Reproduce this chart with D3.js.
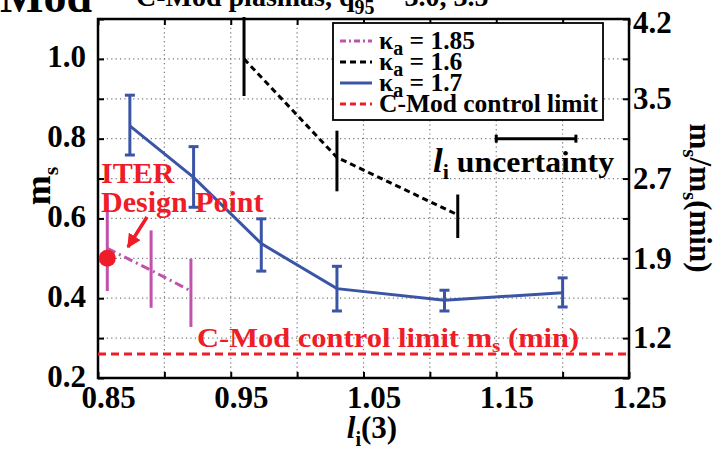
<!DOCTYPE html>
<html>
<head>
<meta charset="utf-8">
<script src="https://cdn.jsdelivr.net/npm/d3@7/dist/d3.min.js"></script>
<style>
  html, body { margin: 0; padding: 0; background: #fff; }
  svg { display: block; font-family: "Liberation Serif", "Times New Roman", serif; font-weight: bold; }
</style>
</head>
<body>
<svg id="chart" width="723" height="451"></svg>
<script>
// l_i(3) scans of the pedestal stability margin m_s for three elongations
const k185Li = [0.857, 0.890, 0.920];
const k185Ms = [0.525, 0.470, 0.418];
const k185Lo = [0.418, 0.376, 0.328];
const k185Hi = [0.652, 0.570, 0.499];

const k16Li = [0.960, 1.030, 1.121];
const k16Ms = [1.000, 0.753, 0.609];
const k16Lo = [0.907, 0.668, 0.551];
const k16Hi = [1.105, 0.820, 0.660];

const k17Li = [0.874, 0.922, 0.973, 1.030, 1.111, 1.200];
const k17Ms = [0.832, 0.703, 0.537, 0.424, 0.395, 0.414];
const k17Lo = [0.759, 0.628, 0.468, 0.368, 0.368, 0.378];
const k17Hi = [0.909, 0.780, 0.599, 0.480, 0.420, 0.451];

const msMin = 0.26;           // C-Mod control limit
const iterLi = 0.857, iterMs = 0.50;
const liUncertCenter = 1.18, liUncertHalf = 0.03, liUncertLevel = 0.80;

const xTicks = [0.85, 0.90, 0.95, 1.00, 1.05, 1.10, 1.15, 1.20, 1.25];
const xTickLabels = ["0.85", "", "0.95", "", "1.05", "", "1.15", "", "1.25"];
const yTicks = [0.2, 0.3, 0.4, 0.5, 0.6, 0.7, 0.8, 0.9, 1.0, 1.1];
const yTickLabels = ["0.2", "", "0.4", "", "0.6", "", "0.8", "", "1.0", ""];
const rightTickMs = [1.1, 0.9, 0.7, 0.5, 0.3];
const rightTickLabels = ["4.2", "3.5", "2.7", "1.9", "1.2"];

const BLUE = "#3b55a6", MAG = "#c052ac", RED = "#ee1d27", BLK = "#000";

const svg = d3.select("#chart");
const L = 98, R = 629, T = 19, B = 378;
const x = d3.scaleLinear().domain([0.85, 1.25]).range([L, R]);
const y = d3.scaleLinear().domain([0.2, 1.1]).range([B, T]);

// text placed with a horizontal stretch
function stext(px, py, size, sx) {
  return svg.append("text").attr("transform", `translate(${px},${py}) scale(${sx},1)`)
    .attr("font-size", size);
}

// header (partly outside the page)
svg.append("text").attr("x", 92).attr("y", 12).attr("text-anchor", "end")
  .attr("font-size", 46).text("C-Mod");
const hdr = svg.append("text").attr("x", 136).attr("y", 6).attr("font-size", 28);
hdr.append("tspan").text("C-Mod plasmas, q");
hdr.append("tspan").attr("font-size", 20).attr("dy", 8).text("95");
hdr.append("tspan").attr("dy", -8).text(" = 3.0, 3.5");

// dotted grid
const grid = svg.append("g").attr("stroke", "#777").attr("stroke-width", 1.2)
  .attr("stroke-dasharray", "1.2,3.2");
grid.selectAll("line.v").data(xTicks.slice(1, -1)).join("line")
  .attr("x1", d => x(d)).attr("x2", d => x(d)).attr("y1", T).attr("y2", B);
grid.selectAll("line.h").data(yTicks.slice(1, -1)).join("line")
  .attr("y1", d => y(d)).attr("y2", d => y(d)).attr("x1", L).attr("x2", R);

// axes with inward ticks
function styleAxis(g) {
  g.select(".domain").remove();
  g.selectAll(".tick line").attr("stroke", "#000").attr("stroke-width", 2);
  g.selectAll(".tick text").attr("font-size", 31).attr("font-weight", "bold")
    .attr("font-family", "Liberation Serif, serif").attr("fill", "#000");
}
const fmtX = d => xTickLabels[xTicks.findIndex(v => Math.abs(v - d) < 1e-9)];
const fmtY = d => yTickLabels[yTicks.findIndex(v => Math.abs(v - d) < 1e-9)];

svg.append("g").attr("transform", `translate(0,${B})`)
  .call(d3.axisBottom(x).tickValues(xTicks).tickSize(-6).tickPadding(8).tickFormat(fmtX))
  .call(styleAxis)
  .call(g => g.selectAll(".tick text").attr("dx", 10));
svg.append("g").attr("transform", `translate(0,${T})`)
  .call(d3.axisTop(x).tickValues(xTicks).tickSize(-6).tickFormat(""))
  .call(styleAxis);
svg.append("g").attr("transform", `translate(${L},0)`)
  .call(d3.axisLeft(y).tickValues(yTicks).tickSize(-6).tickPadding(12).tickFormat(fmtY))
  .call(styleAxis)
  .call(g => g.selectAll(".tick text").attr("dy", "0.26em"));
svg.append("g").attr("transform", `translate(${R},0)`)
  .call(d3.axisRight(y).tickValues(yTicks).tickSize(-6).tickFormat(""))
  .call(styleAxis);
svg.append("g").selectAll("text").data(rightTickMs).join("text")
  .attr("x", R + 4).attr("y", d => Math.max(y(d), 23)).attr("dy", "0.33em")
  .attr("font-size", 31).text((d, i) => rightTickLabels[i]);

// frame
svg.append("rect").attr("x", L).attr("y", T).attr("width", R - L).attr("height", B - T)
  .attr("fill", "none").attr("stroke", "#000").attr("stroke-width", 2.5);

// axis titles
const xt = svg.append("text").attr("x", 372).attr("y", 438).attr("text-anchor", "middle").attr("font-size", 31);
xt.append("tspan").attr("font-style", "italic").text("l");
xt.append("tspan").attr("font-size", 20).attr("dy", 8).text("i");
xt.append("tspan").attr("dy", -8).text("(3)");

const yt = svg.append("text").attr("transform", "translate(50,186) rotate(-90)")
  .attr("text-anchor", "middle").attr("font-size", 36);
yt.append("tspan").text("m");
yt.append("tspan").attr("font-size", 22).attr("dy", 8).text("s");

const yr = svg.append("text").attr("transform", "translate(690,198) rotate(90)")
  .attr("text-anchor", "middle").attr("font-size", 31);
yr.append("tspan").text("m");
yr.append("tspan").attr("font-size", 21).attr("dy", 7).text("s");
yr.append("tspan").attr("dy", -7).text("/m");
yr.append("tspan").attr("font-size", 21).attr("dy", 7).text("s");
yr.append("tspan").attr("dy", -7).text("(min)");

// C-Mod control limit
svg.append("line").attr("x1", L).attr("x2", R).attr("y1", y(msMin)).attr("y2", y(msMin))
  .attr("stroke", RED).attr("stroke-width", 3).attr("stroke-dasharray", "8,5");
const cl = stext(197, 347, 27, 1.13).attr("fill", RED);
cl.append("tspan").text("C-Mod control limit m");
cl.append("tspan").attr("font-size", 19).attr("dy", 5).text("s");
cl.append("tspan").attr("dy", -5).text(" (min)");

const line = d3.line().x(d => x(d[0])).y(d => y(d[1]));
function series(li, ms, lo, hi, color, dash, cap) {
  const pts = li.map((v, i) => [v, ms[i]]);
  svg.append("path").datum(pts).attr("d", line).attr("fill", "none")
    .attr("stroke", color).attr("stroke-width", 3).attr("stroke-dasharray", dash);
  const eb = svg.append("g").attr("stroke", color).attr("stroke-width", 3);
  eb.selectAll("line.bar").data(li).join("line")
    .attr("x1", d => x(d)).attr("x2", d => x(d))
    .attr("y1", (d, i) => y(lo[i])).attr("y2", (d, i) => y(hi[i]));
  if (cap) {
    eb.selectAll("line.lo").data(li).join("line")
      .attr("x1", d => x(d) - cap).attr("x2", d => x(d) + cap)
      .attr("y1", (d, i) => y(lo[i])).attr("y2", (d, i) => y(lo[i]));
    eb.selectAll("line.hi").data(li).join("line")
      .attr("x1", d => x(d) - cap).attr("x2", d => x(d) + cap)
      .attr("y1", (d, i) => y(hi[i])).attr("y2", (d, i) => y(hi[i]));
  }
}
series(k185Li, k185Ms, k185Lo, k185Hi, MAG, "9,4,2,4", 0);
series(k16Li, k16Ms, k16Lo, k16Hi, BLK, "6,4", 0);
series(k17Li, k17Ms, k17Lo, k17Hi, BLUE, null, 5);

// l_i uncertainty bar
const ub = svg.append("g").attr("stroke", "#000").attr("stroke-width", 3);
ub.append("line").attr("x1", x(liUncertCenter - liUncertHalf)).attr("x2", x(liUncertCenter + liUncertHalf))
  .attr("y1", y(liUncertLevel)).attr("y2", y(liUncertLevel));
[liUncertCenter - liUncertHalf, liUncertCenter + liUncertHalf].forEach(v =>
  ub.append("line").attr("x1", x(v)).attr("x2", x(v))
    .attr("y1", y(liUncertLevel) - 4).attr("y2", y(liUncertLevel) + 4));
const ut = stext(433, 172, 30, 1.06);
ut.append("tspan").attr("font-style", "italic").attr("font-size", 33).text("l");
ut.append("tspan").attr("font-size", 21).attr("dy", 7).text("i");
ut.append("tspan").attr("dy", -7).text(" uncertainty");

// ITER design point
svg.append("circle").attr("cx", x(iterLi)).attr("cy", y(iterMs)).attr("r", 8.5).attr("fill", RED);
svg.append("text").attr("x", 101).attr("y", 183).attr("font-size", 30).attr("fill", RED).text("ITER");
svg.append("text").attr("x", 101).attr("y", 212).attr("font-size", 30).attr("fill", RED).text("Design Point");
svg.append("defs").append("marker").attr("id", "ah").attr("viewBox", "0 0 10 10")
  .attr("refX", 9).attr("refY", 5).attr("markerWidth", 4).attr("markerHeight", 4)
  .attr("orient", "auto").append("path").attr("d", "M0,0L10,5L0,10Z").attr("fill", RED);
svg.append("line").attr("x1", 147).attr("y1", 217).attr("x2", 128).attr("y2", 247)
  .attr("stroke", RED).attr("stroke-width", 3.5).attr("marker-end", "url(#ah)");

// legend
const lg = svg.append("g");
lg.append("rect").attr("x", 333).attr("y", 23).attr("width", 270).attr("height", 97)
  .attr("fill", "#fff").attr("stroke", "#000").attr("stroke-width", 1.8);
const legendItems = [
  { color: MAG, dash: "6,3,2,3", label: "1.85", kappa: true },
  { color: BLK, dash: "6,4", label: "1.6", kappa: true },
  { color: BLUE, dash: null, label: "1.7", kappa: true },
  { color: RED, dash: "6,4", label: "C-Mod control limit", kappa: false }
];
legendItems.forEach((d, i) => {
  const by = 49 + i * 21;
  lg.append("line").attr("x1", 340).attr("x2", 372).attr("y1", by - 8).attr("y2", by - 8)
    .attr("stroke", d.color).attr("stroke-width", 3).attr("stroke-dasharray", d.dash);
  const t = lg.append("text").attr("x", 379).attr("y", by).attr("font-size", 25.5);
  if (d.kappa) {
    t.append("tspan").text("κ");
    t.append("tspan").attr("font-size", 20).attr("dy", 6).text("a");
    t.append("tspan").attr("dy", -6).text(" = " + d.label);
  } else {
    t.text(d.label);
  }
});
</script>
</body>
</html>
